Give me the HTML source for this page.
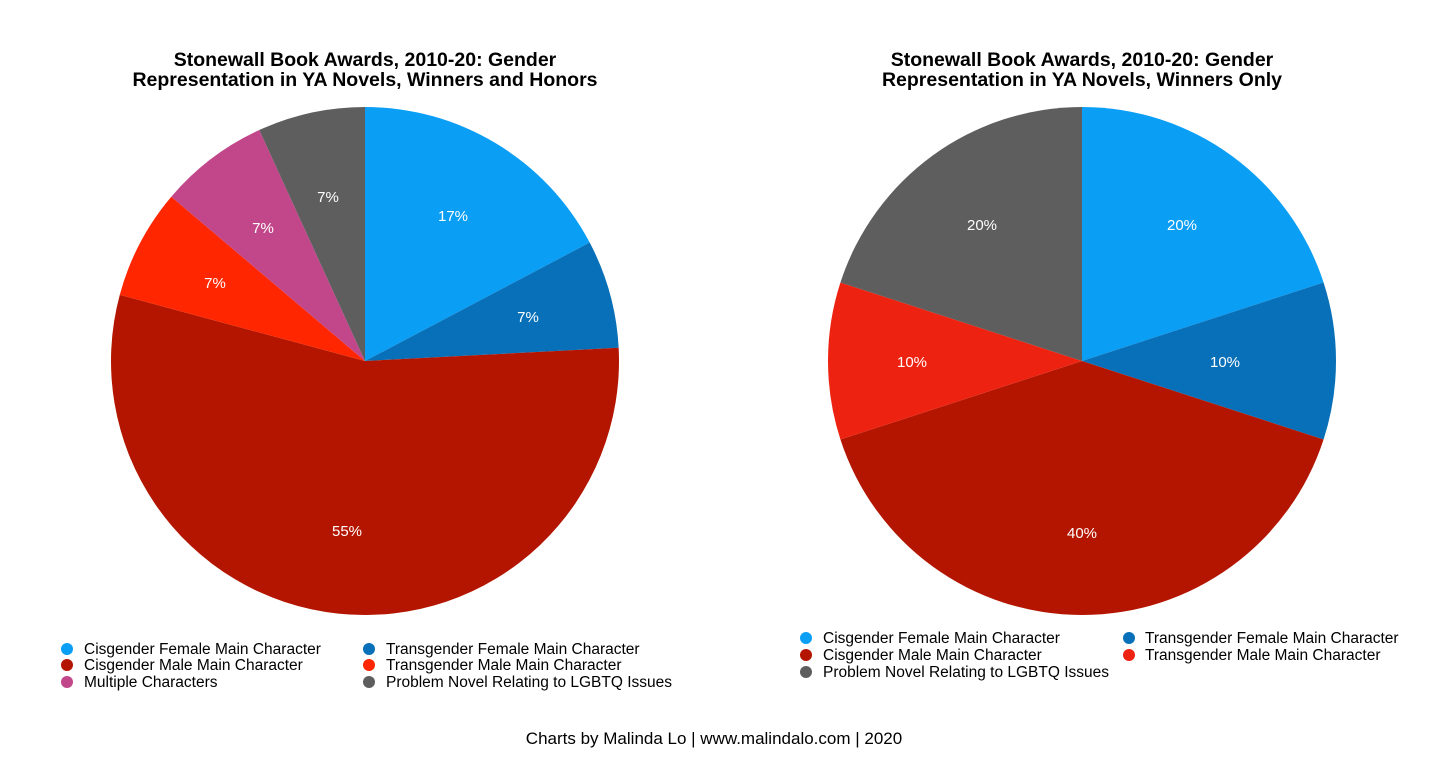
<!DOCTYPE html>
<html><head><meta charset="utf-8"><style>
body{margin:0;background:#fff;}
svg{display:block;font-family:"Liberation Sans",Arial,sans-serif;}
</style></head><body>
<svg id="s" width="1456" height="783" viewBox="0 0 1456 783" xmlns="http://www.w3.org/2000/svg">
<rect width="1456" height="783" fill="#fff"/>
<g font-weight="bold" font-size="19.5" text-anchor="middle" fill="#000">
<text x="365" y="66">Stonewall Book Awards, 2010-20: Gender</text>
<text x="365" y="86">Representation in YA Novels, Winners and Honors</text>
<text x="1082" y="66">Stonewall Book Awards, 2010-20: Gender</text>
<text x="1082" y="86">Representation in YA Novels, Winners Only</text>
</g>
<g id="pies"></g>
<g font-size="15" fill="#fff" text-anchor="middle">
<text x="453" y="221">17%</text><text x="528" y="322">7%</text><text x="347" y="536">55%</text>
<text x="215" y="288">7%</text><text x="263" y="233">7%</text><text x="328" y="202">7%</text>
<text x="1182" y="230">20%</text><text x="1225" y="367">10%</text><text x="1082" y="538">40%</text>
<text x="912" y="367">10%</text><text x="982" y="230">20%</text>
</g>
<g font-size="15.5" fill="#000">
<circle cx="67" cy="649" r="6" fill="#0A9EF5"/><text x="84" y="654">Cisgender Female Main Character</text>
<circle cx="67" cy="665" r="6" fill="#B31500"/><text x="84" y="670">Cisgender Male Main Character</text>
<circle cx="67" cy="682" r="6" fill="#C2478A"/><text x="84" y="687">Multiple Characters</text>
<circle cx="369" cy="649" r="6" fill="#0870B8"/><text x="386" y="654">Transgender Female Main Character</text>
<circle cx="369" cy="665" r="6" fill="#FF2600"/><text x="386" y="670">Transgender Male Main Character</text>
<circle cx="369" cy="682" r="6" fill="#5E5E5E"/><text x="386" y="687">Problem Novel Relating to LGBTQ Issues</text>
<circle cx="806" cy="638" r="6" fill="#0A9EF5"/><text x="823" y="643">Cisgender Female Main Character</text>
<circle cx="806" cy="655" r="6" fill="#B31500"/><text x="823" y="660">Cisgender Male Main Character</text>
<circle cx="806" cy="672" r="6" fill="#5E5E5E"/><text x="823" y="677">Problem Novel Relating to LGBTQ Issues</text>
<circle cx="1129" cy="638" r="6" fill="#0870B8"/><text x="1145" y="643">Transgender Female Main Character</text>
<circle cx="1129" cy="655" r="6" fill="#EE2211"/><text x="1145" y="660">Transgender Male Main Character</text>
<text x="714" y="744" text-anchor="middle" font-size="17">Charts by Malinda Lo | www.malindalo.com | 2020</text>
</g>
</svg>
<script>
function pie(cx,cy,r,angles,colors){
 var g=document.getElementById('pies'),ns="http://www.w3.org/2000/svg";
 for(var i=0;i<colors.length;i++){
  var a0=angles[i]*Math.PI/180,a1=angles[i+1]*Math.PI/180;
  var x0=cx+r*Math.sin(a0),y0=cy-r*Math.cos(a0),x1=cx+r*Math.sin(a1),y1=cy-r*Math.cos(a1);
  var p=document.createElementNS(ns,'path');
  p.setAttribute('d','M'+cx+' '+cy+'L'+x0+' '+y0+'A'+r+' '+r+' 0 '+((a1-a0)>Math.PI?1:0)+' 1 '+x1+' '+y1+'Z');
  p.setAttribute('fill',colors[i]);g.appendChild(p);
 }
}
pie(365,361,254,[0,62.2,87,285.1,310.3,335.4,360],["#0A9EF5","#0870B8","#B31500","#FF2600","#C2478A","#5E5E5E"]);
pie(1082,361,254,[0,72,108,252,288,360],["#0A9EF5","#0870B8","#B31500","#EE2211","#5E5E5E"]);
</script>
</body></html>
